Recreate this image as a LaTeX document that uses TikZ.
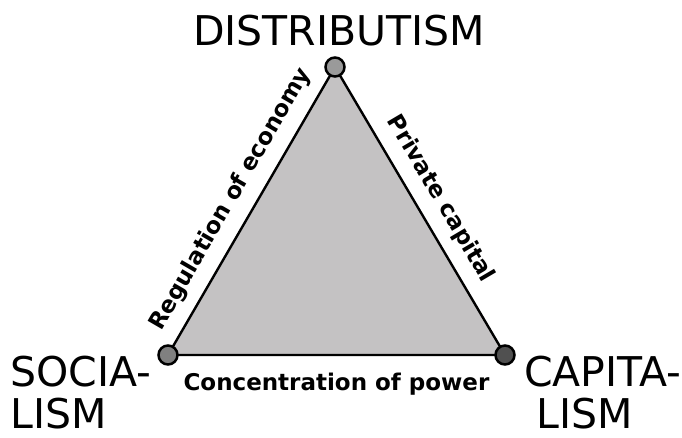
\documentclass[tikz,border=0pt]{standalone}
\usepackage{fontspec}
\setmainfont{DejaVu Sans}
\usepackage{xcolor}

\definecolor{areagray}{HTML}{C4C2C3}
\definecolor{topgray}{HTML}{9A9A9A}
\definecolor{leftgray}{HTML}{808080}
\definecolor{rightgray}{HTML}{505050}

\tikzset{
  vertex/.style={circle,draw=black,line width=2.5pt,minimum size=19pt,inner sep=0pt},
  school/.style={font=\fontsize{41}{42}\selectfont,inner sep=0pt,align=left},
  axis/.style={font=\bfseries\fontsize{23}{26}\selectfont,sloped}
}

\begin{document}
\begin{tikzpicture}[x=1pt,y=-1pt]
        \useasboundingbox (0,0) rectangle (682,437);
        \coordinate (d) at (335,67);
        \coordinate (s) at (168,355);
        \coordinate (c) at (505,355);
        \filldraw[fill=areagray,line width=2.4pt,line join=round] (d) -- (s) -- (c) -- cycle;
        \node[vertex,fill=topgray] (dist) at (d) {};
        \node[vertex,fill=leftgray] (soc) at (s) {};
        \node[vertex,fill=rightgray] (cap) at (c) {};
        \path (soc.center) -- node[axis,above=9pt] {Regulation of economy} (dist.center);
        \path (dist.center) -- node[axis,above=9pt] {Private capital} (cap.center);
        \path (soc.center) -- node[axis,below=14pt] {Concentration of power} (cap.center);
        \node[school,anchor=base] (distlabel) at (339,45) {DISTRIBUTISM};
        \node[school,anchor=north west] (soclabel) at (10,356) {SOCIA-\\LISM};
        \node[school,anchor=north west] (caplabel) at (524,356) {CAPITA-\\\hspace*{12pt}LISM};
\end{tikzpicture}
\end{document}
